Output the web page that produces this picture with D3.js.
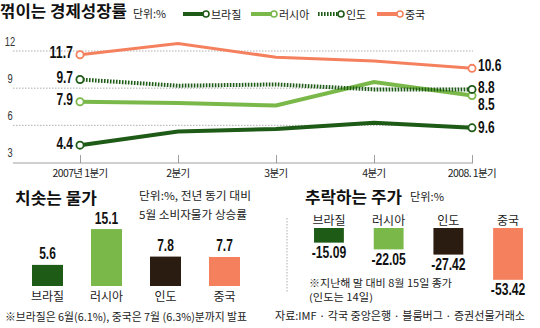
<!DOCTYPE html>
<html><head><meta charset="utf-8">
<script src="https://cdn.jsdelivr.net/npm/d3@7"></script>
<style>
html,body{margin:0;padding:0;background:#fff;}
svg{display:block;}
</style></head>
<body>
<svg id="c" width="540" height="328"></svg>
<script>
// ---- data ----
const quarters = ["2007년 1분기","2분기","3분기","4분기","2008. 1분기"];
const yTicks = [12, 9, 6, 3];
const brazilGrowth = [4.4, 5.5, 5.7, 6.2, 5.8];
const russiaGrowth = [7.9, 7.8, 7.6, 9.5, 8.4];
const indiaGrowth  = [9.7, 9.2, 9.3, 8.9, 8.9];
const chinaGrowth  = [11.7, 12.6, 11.5, 11.2, 10.6];
const startLabels = ["4.4","7.9","9.7","11.7"];   // brazil, russia, india, china
const endLabels   = ["9.6","8.5","8.8","10.6"];
const countries = ["브라질","러시아","인도","중국"];
const cpiValues = [5.6, 15.1, 7.8, 7.7];
const stockValues = [-15.09, -22.05, -27.42, -53.42];

const colors = {"브라질":"#1e5b17","러시아":"#7ab84a","인도":"#1e5b17","중국":"#f5805e"};
const barColors = ["#1e5b17","#7ab84a","#2a1c10","#f5805e"];
const KR = "'Noto Sans CJK KR','Noto Sans',sans-serif";
const NUM = "'Liberation Sans','Arial',sans-serif";
const TXT = "#222";
const NUMSIZE = 16;

const svg = d3.select("#c");

// width of a condensed number string (px)
function numLen(s) {
  let w = 0;
  for (const ch of String(s)) w += (ch === "." ? 3 : ch === "-" ? 4.2 : 6.8);
  return w;
}

function text(x, y, s, size, opt={}) {
  const t = svg.append("text").attr("x", x).attr("y", y)
    .attr("font-family", opt.family || KR)
    .attr("font-size", size)
    .attr("font-weight", opt.weight || "normal")
    .attr("fill", opt.fill || TXT)
    .attr("text-anchor", opt.anchor || "start")
    .attr("dominant-baseline", "central")
    .text(s);
  if (opt.len) t.attr("textLength", opt.len).attr("lengthAdjust", "spacingAndGlyphs");
  return t;
}

// ---- top line chart ----
text(0, 9.5, "꺾이는 경제성장률", 15.5, {weight: "bold", len: 127, fill: "#111"});
text(133, 13, "단위:%", 11, {len: 33});

const x = d3.scalePoint().domain(quarters).range([80, 472]);
const y = d3.scaleLinear().domain([3, 12]).range([162.5, 51]);

// gridlines
svg.append("g").selectAll("line").data(yTicks.slice(0,3)).join("line")
  .attr("x1", 13).attr("x2", 473)
  .attr("y1", d => y(d)).attr("y2", d => y(d))
  .attr("stroke", "#999").attr("stroke-width", 0.8).attr("stroke-dasharray", "1.5,1.5");
// y tick labels (above gridline)
svg.append("g").selectAll("text").data(yTicks).join("text")
  .attr("x", 10).attr("y", d => y(d) - 9.5)
  .attr("text-anchor", "middle").attr("dominant-baseline", "central")
  .attr("font-family", NUM).attr("font-size", 12).attr("fill", "#333")
  .attr("textLength", d => String(d).length * 5.2).attr("lengthAdjust", "spacingAndGlyphs")
  .text(d => d);

// x axis
const xAxis = d3.axisBottom(x).tickSize(-8).tickFormat("");
const gx = svg.append("g").attr("transform", "translate(0,163)").call(xAxis);
gx.select(".domain").remove();
gx.selectAll(".tick line").attr("stroke", "#888").attr("stroke-width", 0.8);
svg.append("line").attr("x1", 13).attr("x2", 473).attr("y1", 163).attr("y2", 163)
  .attr("stroke", "#888").attr("stroke-width", 0.8);
svg.append("g").selectAll("text").data(quarters).join("text")
  .attr("x", d => x(d)).attr("y", 172)
  .attr("text-anchor", "middle").attr("dominant-baseline", "central")
  .attr("font-family", KR).attr("font-size", 10.5).attr("fill", TXT)
  .attr("letter-spacing", -0.6)
  .text(d => d);

const series = [
  {name: "브라질", vals: brazilGrowth, w: 4, dash: null, start: startLabels[0], end: endLabels[0]},
  {name: "러시아", vals: russiaGrowth, w: 4, dash: null, start: startLabels[1], end: endLabels[1]},
  {name: "인도",   vals: indiaGrowth,  w: 4, dash: "1.6,1.4", start: startLabels[2], end: endLabels[2]},
  {name: "중국",   vals: chinaGrowth,  w: 3, dash: null, start: startLabels[3], end: endLabels[3]}
];
const line = d3.line().x((d, i) => x(quarters[i])).y(d => y(d));
series.forEach(s => {
  svg.append("path").datum(s.vals).attr("d", line)
    .attr("fill", "none").attr("stroke", colors[s.name])
    .attr("stroke-width", s.w).attr("stroke-dasharray", s.dash);
});
series.forEach(s => {
  [0, s.vals.length - 1].forEach(i => {
    svg.append("circle").attr("cx", x(quarters[i])).attr("cy", y(s.vals[i])).attr("r", 3.6)
      .attr("fill", "#fff").attr("stroke", colors[s.name]).attr("stroke-width", 1.8);
  });
});
// start labels
series.forEach(s => {
  text(x(quarters[0]) - 7, y(s.vals[0]) - 2, s.start, NUMSIZE,
       {family: NUM, weight: "bold", anchor: "end", fill: "#111", len: numLen(s.start)});
});
// end labels
const endY = {"브라질": 0, "러시아": 8.5, "인도": -1.5, "중국": -3};
series.forEach(s => {
  const last = s.vals.length - 1;
  text(x(quarters[last]) + 6, y(s.vals[last]) + endY[s.name], s.end, NUMSIZE,
       {family: NUM, weight: "bold", fill: "#111", len: numLen(s.end)});
});

// legend
const legX = [183, 251, 318, 377];
series.forEach((s, i) => {
  const x0 = legX[i];
  const cx = x0 + 23;
  svg.append("line").attr("x1", x0).attr("x2", cx - 3).attr("y1", 14).attr("y2", 14)
    .attr("stroke", colors[s.name]).attr("stroke-width", 4)
    .attr("stroke-dasharray", s.dash);
  svg.append("circle").attr("cx", cx).attr("cy", 14).attr("r", 3)
    .attr("fill", "#fff").attr("stroke", colors[s.name]).attr("stroke-width", 1.6);
  text(cx + 5, 14, s.name, 11, {});
});

// ---- bottom left: CPI bars ----
text(15, 196.5, "치솟는 물가", 15.5, {weight: "bold", len: 82, fill: "#111"});
text(139, 195, "단위:%, 전년 동기 대비", 11, {len: 112});
text(139, 214, "5월 소비자물가 상승률", 11, {len: 108});

const xb = d3.scaleBand().domain(countries).range([18, 254]).paddingInner(28/59).paddingOuter(14/59);
const yb = d3.scaleLinear().domain([0, 16]).range([286, 286 - 16 * 3.77]);
svg.append("g").selectAll("rect").data(cpiValues).join("rect")
  .attr("x", (d, i) => xb(countries[i])).attr("width", xb.bandwidth())
  .attr("y", d => yb(d)).attr("height", d => yb(0) - yb(d))
  .attr("fill", (d, i) => barColors[i]);
svg.append("g").selectAll("text").data(cpiValues).join("text")
  .attr("x", (d, i) => xb(countries[i]) + xb.bandwidth() / 2)
  .attr("y", d => yb(d) - 11)
  .attr("text-anchor", "middle").attr("dominant-baseline", "central")
  .attr("font-family", NUM).attr("font-weight", "bold").attr("font-size", NUMSIZE).attr("fill", "#111")
  .attr("textLength", d => numLen(d.toFixed(1))).attr("lengthAdjust", "spacingAndGlyphs")
  .text(d => d.toFixed(1));
svg.append("g").selectAll("text").data(countries).join("text")
  .attr("x", d => xb(d) + xb.bandwidth() / 2).attr("y", 295)
  .attr("text-anchor", "middle").attr("dominant-baseline", "central")
  .attr("font-family", KR).attr("font-size", 12).attr("fill", TXT)
  .text(d => d);
text(5, 316, "※브라질은 6월(6.1%), 중국은 7월 (6.3%)분까지 발표", 11, {len: 242});

// ---- bottom right: stock bars ----
text(305, 195.5, "추락하는 주가", 15.5, {weight: "bold", len: 97, fill: "#111"});
text(410, 196, "단위:%", 11, {len: 34});
svg.append("line").attr("x1", 287).attr("x2", 287).attr("y1", 218).attr("y2", 292)
  .attr("stroke", "#999").attr("stroke-width", 0.8).attr("stroke-dasharray", "1.5,1.5");

const xs = d3.scaleBand().domain(countries).range([300, 537]).paddingInner(0.5).paddingOuter(0.235);
const ys = d3.scaleLinear().domain([0, -60]).range([228, 228 + 60 * 0.97]);
svg.append("g").selectAll("text").data(countries).join("text")
  .attr("x", d => xs(d) + xs.bandwidth() / 2).attr("y", 219.5)
  .attr("text-anchor", "middle").attr("dominant-baseline", "central")
  .attr("font-family", KR).attr("font-size", 12).attr("fill", TXT)
  .text(d => d);
svg.append("g").selectAll("rect").data(stockValues).join("rect")
  .attr("x", (d, i) => xs(countries[i])).attr("width", xs.bandwidth())
  .attr("y", ys(0)).attr("height", d => ys(d) - ys(0))
  .attr("fill", (d, i) => barColors[i]);
svg.append("g").selectAll("text").data(stockValues).join("text")
  .attr("x", (d, i) => xs(countries[i]) + xs.bandwidth() / 2)
  .attr("y", d => ys(d) + 10)
  .attr("text-anchor", "middle").attr("dominant-baseline", "central")
  .attr("font-family", NUM).attr("font-weight", "bold").attr("font-size", NUMSIZE).attr("fill", "#111")
  .attr("textLength", d => numLen(d.toFixed(2))).attr("lengthAdjust", "spacingAndGlyphs")
  .text(d => d.toFixed(2));
text(309, 282.5, "※지난해 말 대비 8월 15일 종가", 10, {len: 143});
text(309, 296.5, "(인도는 14일)", 10, {len: 64});
text(275, 315, "자료:IMF · 각국 중앙은행 · 블룸버그 · 증권선물거래소", 11, {len: 250});
</script>
</body></html>
